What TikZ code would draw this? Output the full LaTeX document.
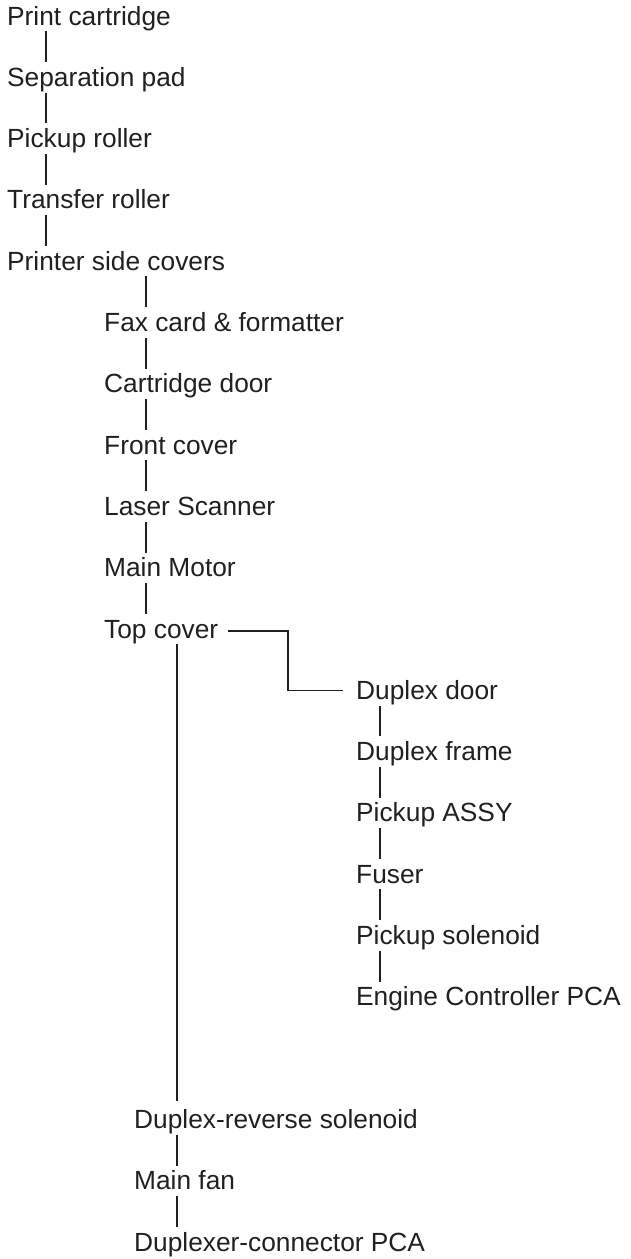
\documentclass[tikz,border=0pt]{standalone}
\usepackage{fontspec}
\setmainfont{Liberation Sans}
\definecolor{ink}{RGB}{35,31,32}
\begin{document}
\begin{tikzpicture}[x=1pt,y=-1pt,
  lbl/.style={anchor=base west, inner sep=0pt, font=\fontsize{26.3}{30}\selectfont, text=ink, text height=24pt, text depth=6pt},
  conn/.style={draw=ink, line width=1.6pt}]
\useasboundingbox (0,0) rectangle (630,1259);
\coordinate (c1) at (46,0);
\coordinate (c2) at (146,0);
\coordinate (c3) at (177,0);
\coordinate (c4) at (380,0);
\coordinate (ex) at (288,0);
% main column
\node[lbl] (n0) at (7,25) {Print cartridge};
\node[lbl] (n1) at (7,86.3) {Separation pad};
\node[lbl] (n2) at (7,147.6) {Pickup roller};
\node[lbl] (n3) at (7,208.9) {Transfer roller};
\node[lbl] (n4) at (7,270.2) {Printer side covers};
% second column
\node[lbl] (n5) at (104,331.5) {Fax card \& formatter};
\node[lbl] (n6) at (104,392.8) {Cartridge door};
\node[lbl] (n7) at (104,454.1) {Front cover};
\node[lbl] (n8) at (104,515.4) {Laser Scanner};
\node[lbl] (n9) at (104,576.7) {Main Motor};
\node[lbl] (n10) at (104,638) {Top cover};
% duplex column
\node[lbl] (n11) at (356,699.3) {Duplex door};
\node[lbl] (n12) at (356,760.6) {Duplex frame};
\node[lbl] (n13) at (356,821.9) {Pickup ASSY};
\node[lbl] (n14) at (356,883.2) {Fuser};
\node[lbl] (n15) at (356,944.5) {Pickup solenoid};
\node[lbl] (n16) at (356,1005.8) {Engine Controller PCA};
% bottom column
\node[lbl] (n18) at (134,1128.4) {Duplex-reverse solenoid};
\node[lbl] (n19) at (134,1189.7) {Main fan};
\node[lbl] (n20) at (134,1251) {Duplexer-connector PCA};
% connectors
\foreach \a/\b in {n0/n1,n1/n2,n2/n3,n3/n4}
  \draw[conn] (\a.south -| c1) -- (\b.north -| c1);
\foreach \a/\b in {n4/n5,n5/n6,n6/n7,n7/n8,n8/n9,n9/n10}
  \draw[conn] (\a.south -| c2) -- (\b.north -| c2);
\foreach \a/\b in {n11/n12,n12/n13,n13/n14,n14/n15,n15/n16}
  \draw[conn] (\a.south -| c4) -- (\b.north -| c4);
\foreach \a/\b in {n18/n19,n19/n20}
  \draw[conn] (\a.south -| c3) -- (\b.north -| c3);
\draw[conn] (n10.south -| c3) -- ([yshift=3.4pt]n18.north -| c3);
\draw[conn] ([xshift=10pt,yshift=-2pt]n10.east) -| (ex |- n11.west) -- ([xshift=-13pt]n11.west);
\end{tikzpicture}
\end{document}
